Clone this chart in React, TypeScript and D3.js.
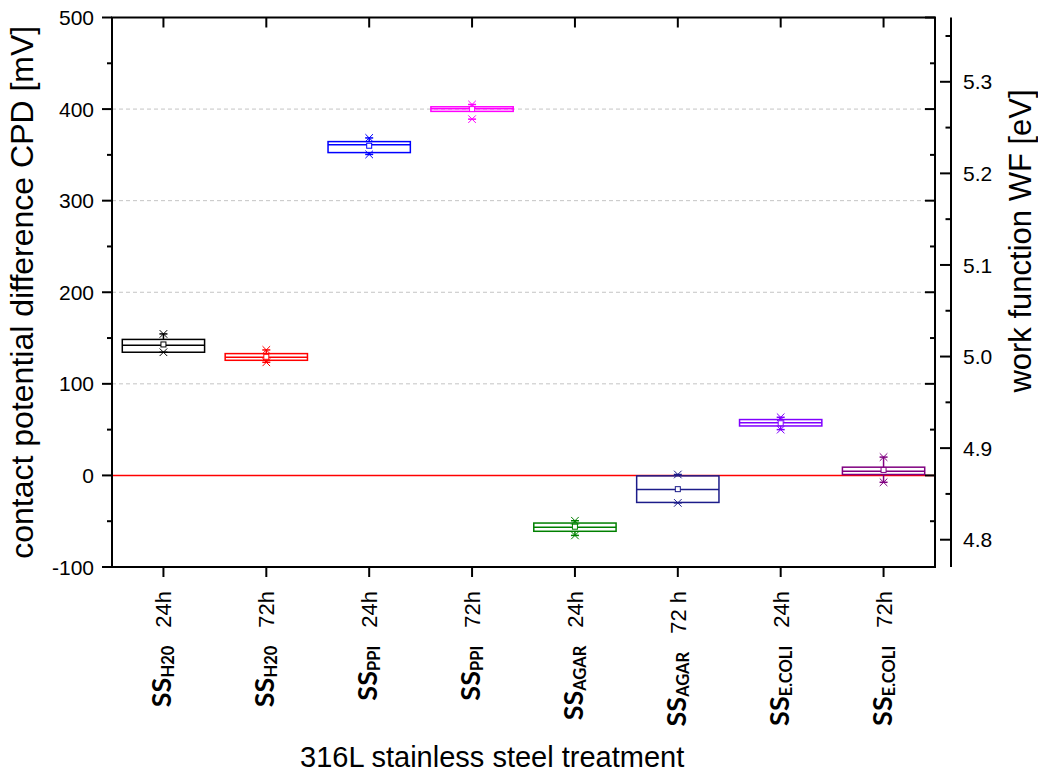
import React from "react";
import * as d3 from "d3";

const groups = ["H20", "H20", "PPI", "PPI", "AGAR", "AGAR", "E.COLI", "E.COLI"];
const times = ["24h", "72h", "24h", "72h", "24h", "72 h", "24h", "72h"];
const colors = ["#000000", "#ff0000", "#0000ff", "#ff00ff", "#008000", "#1c1c8a", "#8000ff", "#800080"];
const minV = [134.5, 123.5, 350.5, 389, -65.5, -30, 50, -7.5];
const q1V = [134.5, 125.7, 352.5, 397.5, -61, -29.5, 54, 1];
const medianV = [142, 129, 361, 400.5, -56.5, -15.5, 57.5, 4.5];
const meanV = [143, 129.5, 360, 400, -56, -15, 57, 6];
const q3V = [148.5, 133, 364.5, 402.5, -52, -0.5, 61, 9];
const maxV = [154.5, 137, 368.5, 405, -49.5, 1, 63.5, 20];
const whiskerLowV = [134.5, 123.5, 350.5, 397.5, -65.5, -30, 50, -7.5];
const whiskerHighV = [154.5, 137, 368.5, 405, -49.5, 1, 63.5, 20];
const leftTicks = [-100, 0, 100, 200, 300, 400, 500];
const leftMinor = [-50, 50, 150, 250, 350, 450];
const gridValues = [100, 200, 300, 400];
const rightTicks = [4.8, 4.9, 5.0, 5.1, 5.2, 5.3];
const rightMinor = [4.85, 4.95, 5.05, 5.15, 5.25, 5.35];

const W = 1038;
const H = 774;
const L = 112;
const R = 935;
const T = 17.5;
const B = 567;
const RAX = 951;
const SANS = "'Liberation Sans', Arial, sans-serif";
const LABEL = "Lato, 'Open Sans', sans-serif";

export default function App() {
  const idx = d3.range(groups.length).map(String);
  const x = d3.scaleBand().domain(idx).range([L, R]).paddingInner(0.2).paddingOuter(0.1);
  const y = d3.scaleLinear().domain([-100, 500]).range([B, T]);
  const yR = d3.scaleLinear().domain([4.7702, 5.3702]).range([B, T]);
  const bw = x.bandwidth();

  return (
    <svg width={W} height={H} style={{ position: "absolute", left: 0, top: 0, background: "#fff" }}>
      {gridValues.map((v) => (
        <line key={"g" + v} x1={L} x2={R} y1={y(v)} y2={y(v)} stroke="#c4c4c4" strokeWidth={1} strokeDasharray="4,3" />
      ))}
      <line x1={L} x2={R} y1={y(0)} y2={y(0)} stroke="#ff0000" strokeWidth={1.5} />

      {idx.map((k, i) => {
        const cx = (x(k) as number) + bw / 2;
        const c = colors[i];
        const s = 3.8;
        const markX = (v: number, key: string) => (
          <g key={key} stroke={c} strokeWidth={1}>
            <line x1={cx - s} x2={cx + s} y1={y(v) - s} y2={y(v) + s} />
            <line x1={cx - s} x2={cx + s} y1={y(v) + s} y2={y(v) - s} />
            <line x1={cx - 4} x2={cx + 4} y1={y(v)} y2={y(v)} strokeWidth={1.5} />
          </g>
        );
        return (
          <g key={"b" + i}>
            <line x1={cx} x2={cx} y1={y(q3V[i])} y2={y(whiskerHighV[i])} stroke={c} strokeWidth={1.5} />
            <line x1={cx} x2={cx} y1={y(q1V[i])} y2={y(whiskerLowV[i])} stroke={c} strokeWidth={1.5} />
            <rect x={x(k)} y={y(q3V[i])} width={bw} height={y(q1V[i]) - y(q3V[i])} fill="none" stroke={c} strokeWidth={1.5} />
            <line x1={x(k)} x2={(x(k) as number) + bw} y1={y(medianV[i])} y2={y(medianV[i])} stroke={c} strokeWidth={1.5} />
            <rect x={cx - 2.5} y={y(meanV[i]) - 2.5} width={5} height={5} fill="#fff" stroke={c} strokeWidth={1} />
            {markX(maxV[i], "mx")}
            {markX(minV[i], "mn")}
          </g>
        );
      })}

      <rect x={L} y={T} width={R - L} height={B - T} fill="none" stroke="#000" strokeWidth={2} />

      {leftTicks.map((v) => (
        <g key={"lt" + v}>
          <line x1={L - 10} x2={L} y1={y(v)} y2={y(v)} stroke="#000" strokeWidth={2} />
          <line x1={R - 10} x2={R} y1={y(v)} y2={y(v)} stroke="#000" strokeWidth={2} />
          <text x={94} y={y(v)} dy="0.36em" textAnchor="end" fontFamily={SANS} fontSize={21} fill="#000">
            {v}
          </text>
        </g>
      ))}
      {leftMinor.map((v) => (
        <g key={"lm" + v}>
          <line x1={L - 5} x2={L} y1={y(v)} y2={y(v)} stroke="#000" strokeWidth={2} />
          <line x1={R - 5} x2={R} y1={y(v)} y2={y(v)} stroke="#000" strokeWidth={2} />
        </g>
      ))}

      {idx.map((k, i) => {
        const cx = (x(k) as number) + bw / 2;
        return (
          <g key={"xt" + i}>
            <line x1={cx} x2={cx} y1={B} y2={B + 10} stroke="#000" strokeWidth={2} />
            <line x1={cx} x2={cx} y1={T} y2={T + 10} stroke="#000" strokeWidth={2} />
            <text transform={`translate(${cx + 8},591) rotate(-90)`} textAnchor="end" fill="#000">
              <tspan fontFamily={LABEL} fontWeight="bold" fontSize={27}>SS</tspan>
              <tspan fontFamily={LABEL} fontWeight="bold" fontSize={16.5} dy={3}>{groups[i]}</tspan>
              <tspan fontFamily={SANS} fontSize={22} dy={-3} dx={18}>{times[i]}</tspan>
            </text>
          </g>
        );
      })}

      <line x1={RAX} x2={RAX} y1={T} y2={B} stroke="#000" strokeWidth={2} />
      {rightTicks.map((v) => (
        <g key={"rt" + v}>
          <line x1={RAX - 11} x2={RAX} y1={yR(v)} y2={yR(v)} stroke="#000" strokeWidth={2} />
          <text x={963} y={yR(v)} dy="0.36em" fontFamily={SANS} fontSize={21} fill="#000">
            {v.toFixed(1)}
          </text>
        </g>
      ))}
      {rightMinor.map((v) => (
        <line key={"rm" + v} x1={RAX - 5.5} x2={RAX} y1={yR(v)} y2={yR(v)} stroke="#000" strokeWidth={2} />
      ))}

      <text transform={`translate(33,${(T + B) / 2}) rotate(-90)`} textAnchor="middle" fontFamily={SANS} fontSize={32} fill="#000">
        contact potential difference CPD [mV]
      </text>
      <text transform={`translate(1031,241) rotate(-90)`} textAnchor="middle" fontFamily={SANS} fontSize={31} fill="#000">
        work function WF [eV]
      </text>
      <text x={300} y={767} fontFamily={SANS} fontSize={29} fill="#000">
        316L stainless steel treatment
      </text>
    </svg>
  );
}
